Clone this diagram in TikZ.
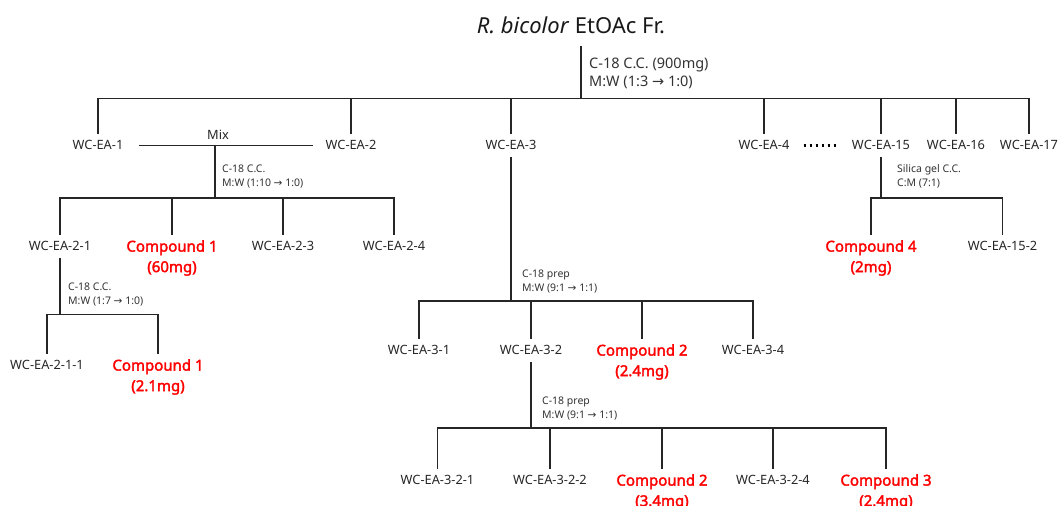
\documentclass[tikz,border=0pt]{standalone}
\usepackage{fontspec}
\setmainfont{Noto Sans}
\newfontfamily\arrowfont{DejaVu Sans}
\newfontfamily\cpdfont{Noto Sans}[FakeBold=2.2]
\newcommand{\toarr}{{\arrowfont →}}

\tikzset{
    frac/.style={font=\fontsize{12.8}{15}\selectfont, text=black!85, anchor=north,
        inner xsep=2pt, inner ysep=7pt, text height=9pt, text depth=0pt},
    cpd/.style={font=\cpdfont\fontsize{15}{20.5}\selectfont, text=red, anchor=north,
        align=center, inner xsep=2pt, inner ysep=5.5pt},
    cond/.style={font=\fontsize{10.5}{13.5}\selectfont, text=black!80, anchor=north west,
        align=left, inner sep=0pt},
    tree/.style={line width=1.1pt, draw=black!85},
    dotline/.style={line width=2.6pt, dash pattern=on 2.6pt off 3.4pt},
}

\begin{document}
\begin{tikzpicture}[x=1pt, y=-1pt]
    \useasboundingbox (0,0) rectangle (1058,506);

    % 标题
    \node[font=\fontsize{22}{26}\selectfont, text=black!90, anchor=base, inner ysep=12pt]
        (title) at (571,33) {\textit{R. bicolor} EtOAc Fr.};
    \node[cond, font=\fontsize{14.5}{18}\selectfont] (cc0) at (589,58)
        {C-18 C.C. (900mg)\\M:W (1:3 \toarr{} 1:0)};

    % 第一层
    \node[frac] (ea1)  at (98,133.5)   {WC-EA-1};
    \node[frac] (ea2)  at (351,133.5)  {WC-EA-2};
    \node[frac] (ea3)  at (511,133.5)  {WC-EA-3};
    \node[frac] (ea4)  at (764,133.5)  {WC-EA-4};
    \node[frac] (ea15) at (881,133.5)  {WC-EA-15};
    \node[frac] (ea16) at (956,133.5)  {WC-EA-16};
    \node[frac] (ea17) at (1029,133.5) {WC-EA-17};

    \coordinate (bar0) at (581,98.5);
    \draw[tree] (title.south -| bar0) -- (bar0);
    \draw[tree] (ea1.north) |- (ea17.north |- bar0) -- (ea17.north);
    \draw[tree] (ea2.north |- bar0) -- (ea2.north) (ea3.north |- bar0) -- (ea3.north)
        (ea4.north |- bar0) -- (ea4.north) (ea15.north |- bar0) -- (ea15.north)
        (ea16.north |- bar0) -- (ea16.north);
    \draw[dotline, shorten <=12pt, shorten >=12pt] (ea4) -- (ea15);

    % Mix (WC-EA-1 + WC-EA-2)
    \node[frac, anchor=center, inner ysep=0pt] (mixlbl) at (218,134.5) {Mix};
    \coordinate (mix) at (215,145);
    \draw[tree, shorten <=13pt, shorten >=10pt] (ea1) -- (ea2);
    \node[cond] (cc1) at (222,164.7) {C-18 C.C.\\M:W (1:10 \toarr{} 1:0)};

    \node[frac] (ea21) at (60,234.5)  {WC-EA-2-1};
    \node[cpd]  (cp1a) at (172,234.5) {Compound 1\\(60mg)};
    \node[frac] (ea23) at (283,234.5) {WC-EA-2-3};
    \node[frac] (ea24) at (394,234.5) {WC-EA-2-4};

    \coordinate (bar1) at (215,198);
    \draw[tree] (mix) -- (bar1);
    \draw[tree] (ea21.north) |- (ea24.north |- bar1) -- (ea24.north);
    \draw[tree] (cp1a.north |- bar1) -- (cp1a.north) (ea23.north |- bar1) -- (ea23.north);

    % WC-EA-2-1
    \node[cond] (cc2) at (68,282.7) {C-18 C.C.\\M:W (1:7 \toarr{} 1:0)};
    \node[frac] (ea211) at (47,353.5) {WC-EA-2-1-1};
    \node[cpd]  (cp1b)  at (158,353.5) {Compound 1\\(2.1mg)};

    \coordinate (bar2) at (60,314.5);
    \draw[tree] (ea21.south) -- (ea21.south |- bar2);
    \draw[tree] (ea211.north) |- (cp1b.north |- bar2) -- (cp1b.north);

    % WC-EA-3
    \node[cond] (cc3) at (522,270) {C-18 prep\\M:W (9:1 \toarr{} 1:1)};
    \node[frac] (ea31) at (419,338.5) {WC-EA-3-1};
    \node[frac] (ea32) at (531,338.5) {WC-EA-3-2};
    \node[cpd]  (cp2a) at (642,338.5) {Compound 2\\(2.4mg)};
    \node[frac] (ea34) at (753,338.5) {WC-EA-3-4};

    \coordinate (bar3) at (511,301);
    \draw[tree] (ea3.south) -- (ea3.south |- bar3);
    \draw[tree] (ea31.north) |- (ea34.north |- bar3) -- (ea34.north);
    \draw[tree] (ea32.north |- bar3) -- (ea32.north) (cp2a.north |- bar3) -- (cp2a.north);

    % WC-EA-3-2
    \node[cond] (cc4) at (542,396.7) {C-18 prep\\M:W (9:1 \toarr{} 1:1)};
    \node[frac] (ea321) at (437.5,468.5) {WC-EA-3-2-1};
    \node[frac] (ea322) at (550,468.5)   {WC-EA-3-2-2};
    \node[cpd]  (cp2b)  at (662,468.5)   {Compound 2\\(3.4mg)};
    \node[frac] (ea324) at (773,468.5)   {WC-EA-3-2-4};
    \node[cpd]  (cp3)   at (886,468.5)   {Compound 3\\(2.4mg)};

    \coordinate (bar4) at (531,428);
    \draw[tree] (ea32.south) -- (ea32.south |- bar4);
    \draw[tree] (ea321.north) |- (cp3.north |- bar4) -- (cp3.north);
    \draw[tree] (ea322.north |- bar4) -- (ea322.north) (cp2b.north |- bar4) -- (cp2b.north)
        (ea324.north |- bar4) -- (ea324.north);

    % WC-EA-15
    \node[cond] (cc5) at (897,164.7) {Silica gel C.C.\\C:M (7:1)};
    \node[cpd]  (cp4)   at (871,234.5)    {Compound 4\\(2mg)};
    \node[frac] (ea152) at (1002.5,234.5) {WC-EA-15-2};

    \coordinate (bar5) at (881,198);
    \draw[tree] (ea15.south) -- (ea15.south |- bar5);
    \draw[tree] (cp4.north) |- (ea152.north |- bar5) -- (ea152.north);
\end{tikzpicture}
\end{document}
